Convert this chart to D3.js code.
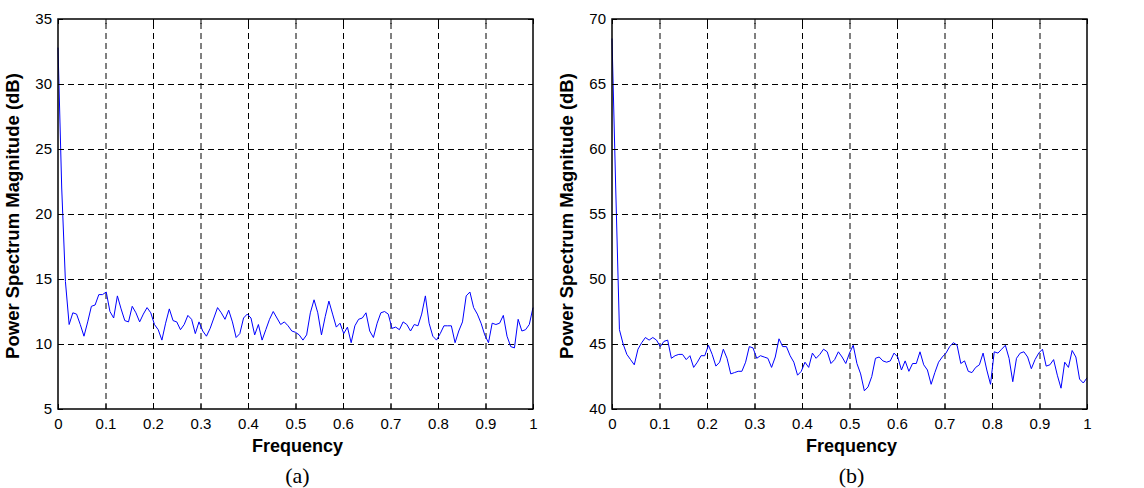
<!DOCTYPE html>
<html>
<head>
<meta charset="utf-8">
<script src="https://cdn.jsdelivr.net/npm/d3@7"></script>
<style>
  html, body { margin: 0; padding: 0; background: #fff; }
  svg { display: block; }
  .tick text { font-family: "Liberation Sans", Arial, sans-serif; font-size: 15px; fill: #000; }
</style>
</head>
<body>
<svg id="chart" width="1144" height="488"></svg>
<script>
// ---------- data ----------
const xTickValues = [0, 0.1, 0.2, 0.3, 0.4, 0.5, 0.6, 0.7, 0.8, 0.9, 1];
const xTickLabels = ["0", "0.1", "0.2", "0.3", "0.4", "0.5", "0.6", "0.7", "0.8", "0.9", "1"];
const yTicksA = [5, 10, 15, 20, 25, 30, 35];
const yTicksB = [40, 45, 50, 55, 60, 65, 70];
const xLabel = "Frequency";
const yLabel = "Power Spectrum Magnitude (dB)";
const panelCaptions = ["(a)", "(b)"];
const nBins = 128; // frequency resolution: sample i lies at i / nBins

const spectrumA = [
  32.8, 22.0, 14.8, 11.5, 12.4, 12.3, 11.5, 10.6, 11.7, 12.9,
  13.0, 13.8, 13.8, 14.0, 12.5, 12.0, 13.7, 12.7, 11.8, 11.7,
  12.9, 12.4, 11.7, 12.3, 12.8, 12.4, 11.5, 11.1, 10.3, 11.6,
  12.7, 11.8, 11.7, 11.1, 11.5, 12.2, 11.9, 10.8, 11.7, 11.0,
  10.6, 11.2, 12.0, 12.8, 12.4, 11.9, 12.6, 11.7, 10.5, 10.8,
  12.0, 12.3, 12.0, 10.7, 11.5, 10.3, 11.1, 11.9, 12.5, 12.0,
  11.5, 11.7, 11.4, 11.0, 10.9, 10.7, 10.3, 10.7, 12.4, 13.4,
  12.4, 10.7, 12.1, 13.3, 12.3, 11.3, 11.6, 10.8, 11.3, 10.1,
  11.4, 11.9, 12.0, 12.4, 11.0, 10.5, 11.6, 12.4, 12.5, 12.3,
  11.2, 11.3, 11.1, 11.7, 11.5, 11.0, 11.5, 11.4, 12.3, 13.7,
  11.6, 10.6, 10.3, 10.8, 11.4, 11.4, 11.4, 10.1, 11.0, 11.7,
  13.7, 14.0, 12.8, 12.3, 11.6, 10.7, 10.1, 11.6, 11.5, 11.6,
  12.2, 10.6, 9.8, 9.7, 11.9, 11.0, 11.1, 11.5, 12.8
];

const spectrumB = [
  68.5, 57.0, 46.1, 45.0, 44.2, 43.8, 43.4, 44.6, 45.1, 45.5,
  45.3, 45.5, 45.3, 44.8, 45.2, 45.3, 43.9, 44.1, 44.2, 44.2,
  43.8, 44.1, 43.2, 43.6, 44.1, 44.1, 44.9, 44.2, 43.3, 43.6,
  44.6, 43.9, 42.7, 42.8, 42.9, 42.9, 43.6, 44.8, 44.7, 43.9,
  44.1, 44.0, 43.9, 43.2, 44.0, 45.4, 44.8, 44.8, 44.1, 43.6,
  42.6, 42.9, 43.6, 43.2, 44.3, 43.9, 44.2, 44.6, 44.4, 43.5,
  43.8, 44.4, 44.0, 43.5, 44.3, 44.9, 43.5, 42.7, 41.4, 41.7,
  42.5, 43.9, 44.0, 43.7, 43.6, 43.7, 44.3, 44.0, 43.0, 43.7,
  42.9, 43.5, 43.5, 44.4, 43.4, 43.0, 41.9, 42.8, 43.6, 44.0,
  44.3, 44.8, 45.1, 44.9, 43.5, 43.7, 42.9, 42.8, 43.2, 43.4,
  44.3, 43.0, 41.9, 44.4, 44.3, 44.6, 44.9, 43.9, 42.1, 43.9,
  44.3, 44.4, 44.0, 43.1, 43.8, 44.3, 44.6, 43.3, 43.4, 43.8,
  42.6, 41.6, 43.6, 43.2, 44.5, 44.0, 42.3, 42.0, 42.4
];

// ---------- layout ----------
const svg = d3.select("#chart");
const panels = [
  { data: spectrumA, yDomain: [5, 35], yTicks: yTicksA, left: 58, right: 533, caption: panelCaptions[0] },
  { data: spectrumB, yDomain: [40, 70], yTicks: yTicksB, left: 612, right: 1087, caption: panelCaptions[1] }
];
const plotTop = 19, plotBottom = 409;

panels.forEach(p => {
  const x = d3.scaleLinear().domain([0, 1]).range([p.left, p.right]);
  const y = d3.scaleLinear().domain(p.yDomain).range([plotBottom, plotTop]);
  const w = p.right - p.left, h = plotBottom - plotTop;
  const g = svg.append("g");

  // grid
  const gridX = g.append("g").attr("transform", `translate(0,${plotBottom})`)
    .call(d3.axisBottom(x).tickValues(xTickValues.slice(1, -1)).tickSize(-h).tickFormat(""));
  const gridY = g.append("g").attr("transform", `translate(${p.left},0)`)
    .call(d3.axisLeft(y).tickValues(p.yTicks.slice(1, -1)).tickSize(-w).tickFormat(""));
  [gridX, gridY].forEach(gr => {
    gr.select(".domain").remove();
    gr.selectAll("line").attr("stroke", "#000").attr("stroke-width", 1).attr("stroke-dasharray", "6,4");
  });

  // line
  const line = d3.line().x((d, i) => x(i / nBins)).y(d => y(d));
  g.append("path").datum(p.data)
    .attr("d", line).attr("fill", "none")
    .attr("stroke", "#0000ff").attr("stroke-width", 1);

  // axes with inward ticks
  const ax = g.append("g").attr("transform", `translate(0,${plotBottom})`)
    .call(d3.axisBottom(x).tickValues(xTickValues).tickSize(-5).tickPadding(9)
      .tickFormat((d, i) => xTickLabels[i]));
  const ay = g.append("g").attr("transform", `translate(${p.left},0)`)
    .call(d3.axisLeft(y).tickValues(p.yTicks).tickSize(-5).tickPadding(6).tickFormat(d3.format("d")));
  const axT = g.append("g").attr("transform", `translate(0,${plotTop})`)
    .call(d3.axisTop(x).tickValues(xTickValues).tickSize(-5).tickFormat(""));
  const ayR = g.append("g").attr("transform", `translate(${p.right},0)`)
    .call(d3.axisRight(y).tickValues(p.yTicks).tickSize(-5).tickFormat(""));
  [ax, ay, axT, ayR].forEach(a => {
    a.select(".domain").remove();
    a.selectAll("line").attr("stroke", "#000").attr("stroke-width", 1);
  });

  // box
  g.append("rect").attr("x", p.left).attr("y", plotTop).attr("width", w).attr("height", h)
    .attr("fill", "none").attr("stroke", "#000").attr("stroke-width", 1.5);

  // labels
  g.append("text").attr("x", p.left + w / 2 + 2).attr("y", 452)
    .attr("text-anchor", "middle")
    .style("font-family", "'Liberation Sans', Arial, sans-serif")
    .style("font-weight", "bold").style("font-size", "18px").text(xLabel);
  g.append("text")
    .attr("transform", `translate(${p.left - 39},${(plotTop + plotBottom) / 2 + 2}) rotate(-90)`)
    .attr("text-anchor", "middle")
    .style("font-family", "'Liberation Sans', Arial, sans-serif")
    .style("font-weight", "bold").style("font-size", "18.5px").text(yLabel);
  g.append("text").attr("x", p.left + w / 2 + 2).attr("y", 483)
    .attr("text-anchor", "middle")
    .style("font-family", "'Liberation Serif', 'Times New Roman', serif")
    .style("font-size", "22px").text(p.caption);
});
</script>
</body>
</html>
